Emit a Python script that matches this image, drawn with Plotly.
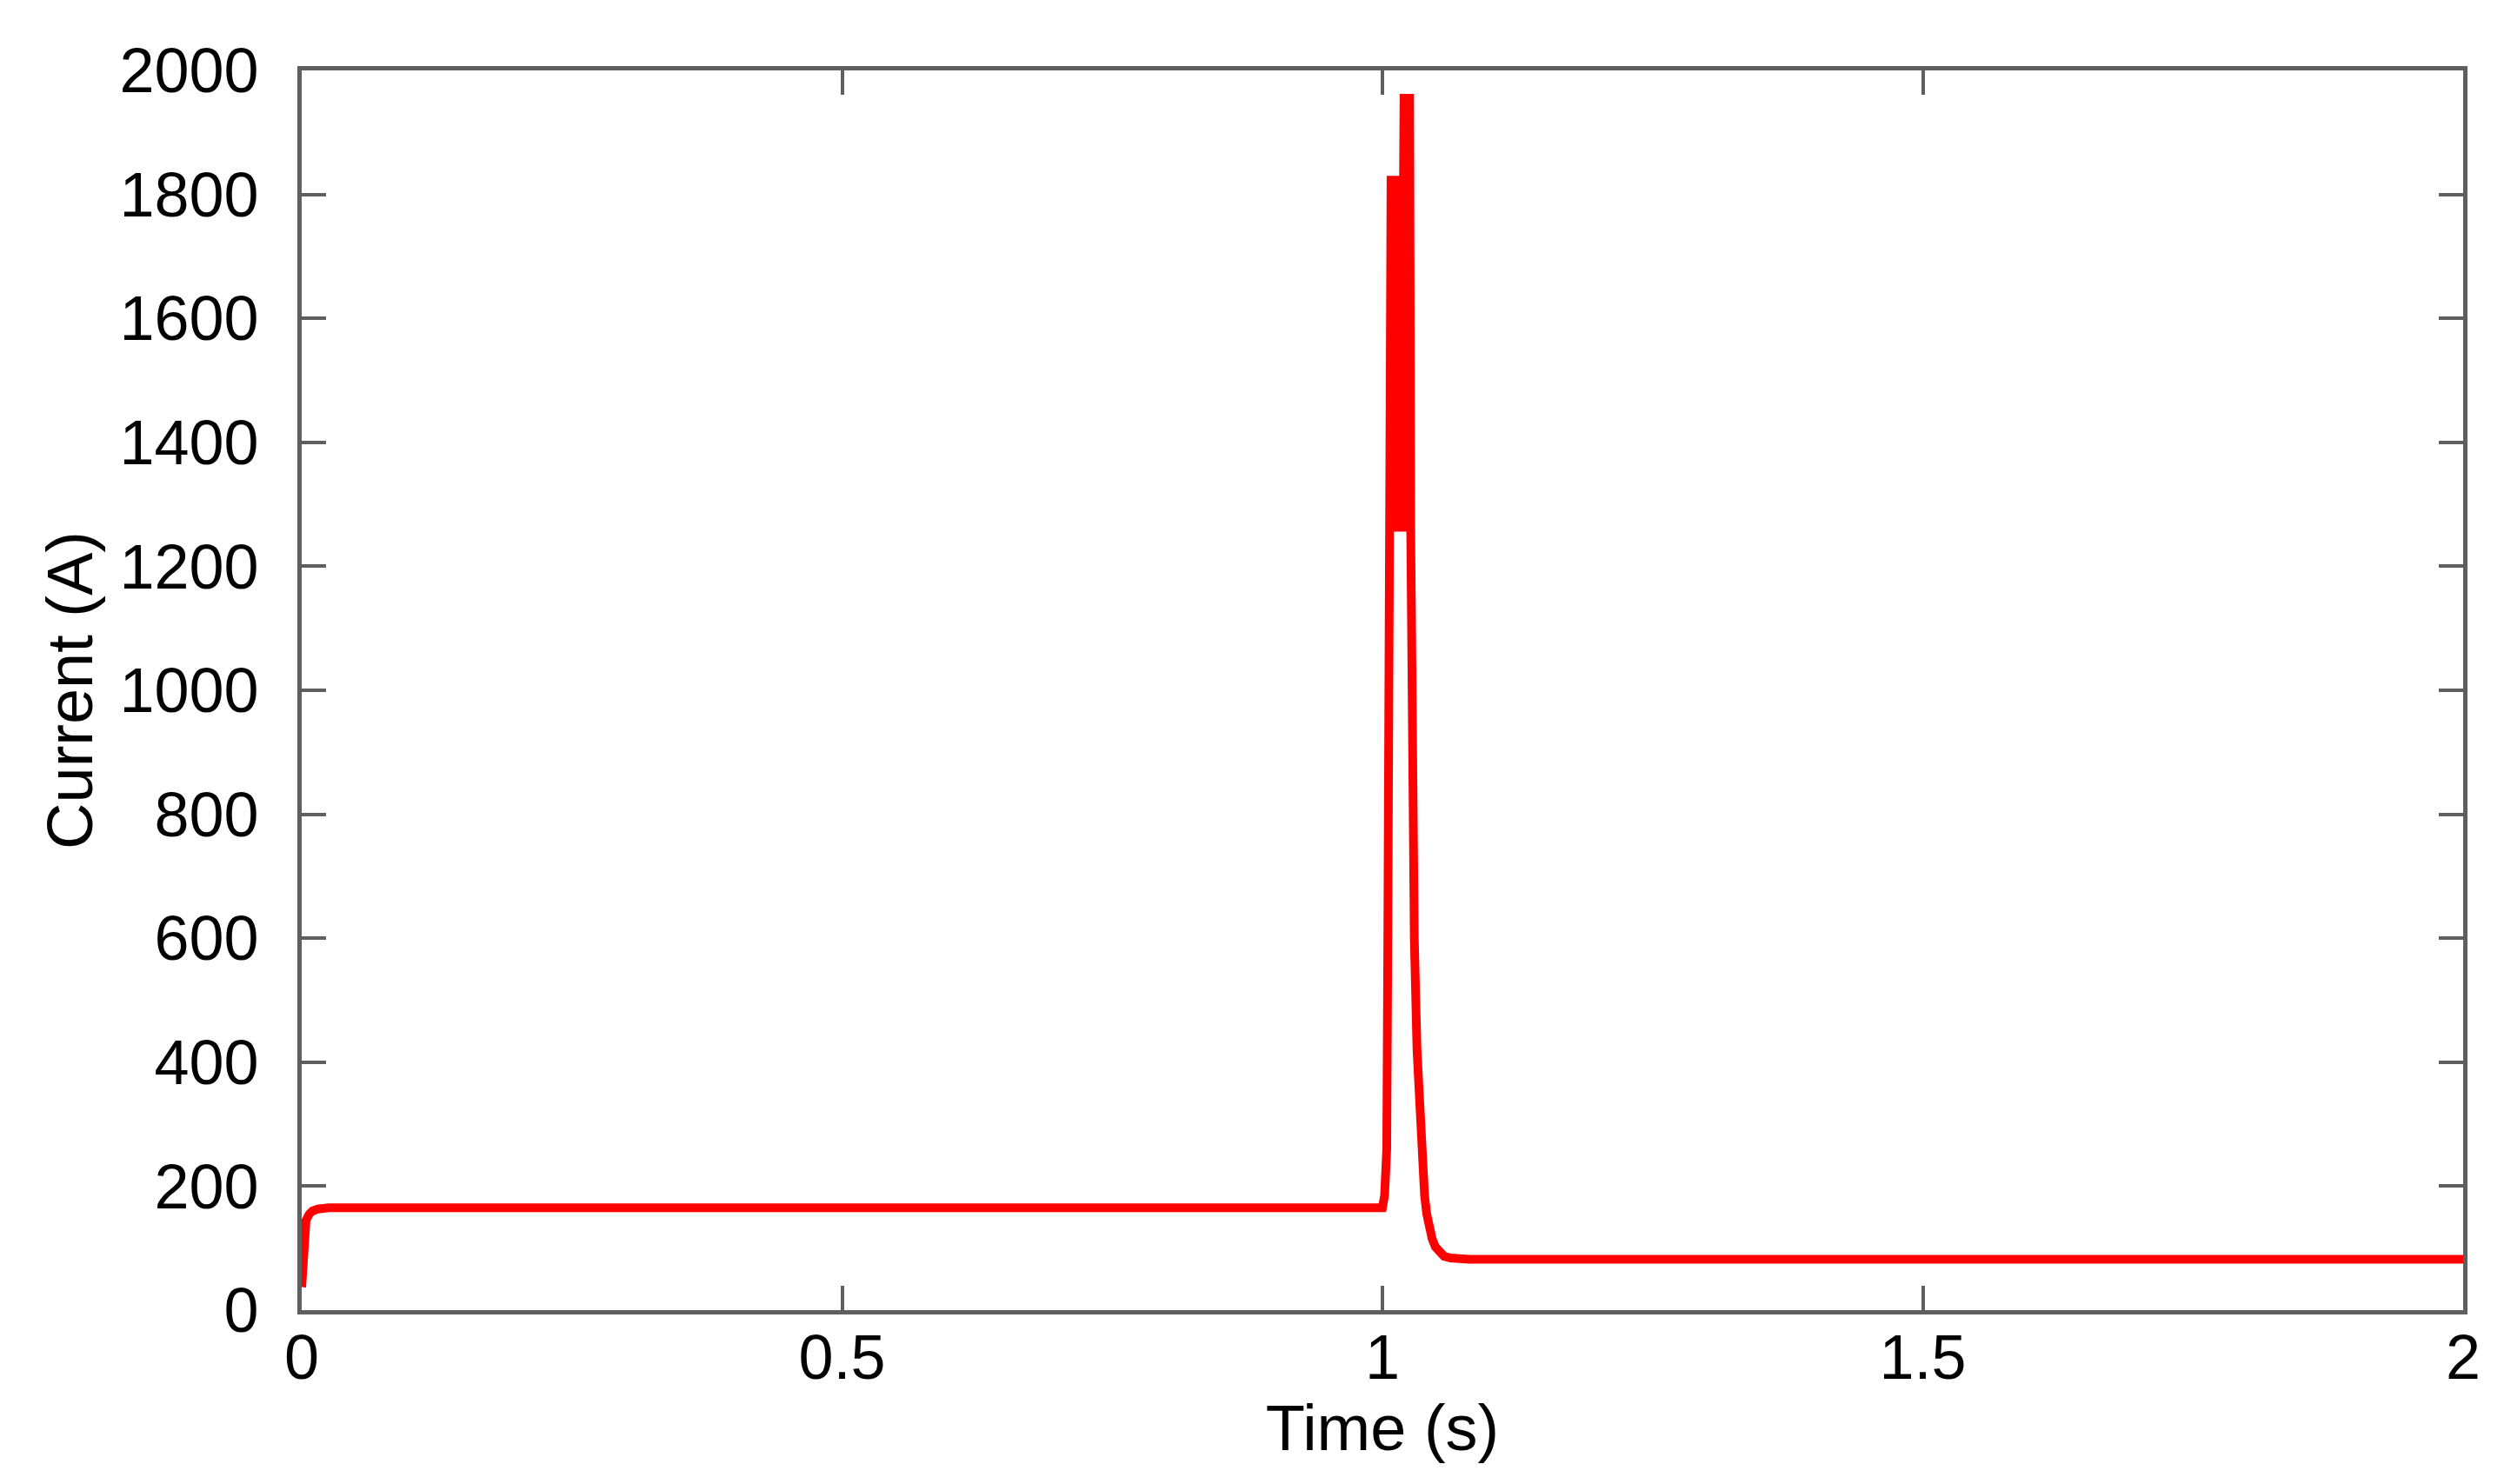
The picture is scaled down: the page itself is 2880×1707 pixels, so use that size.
import plotly.graph_objects as go

# Values (time in s, current in A)
startup_t = [0.0, 0.001, 0.002, 0.004, 0.007, 0.010, 0.015, 0.025]
startup_i = [37, 90, 125, 145, 155, 160, 163, 165]

steady_t = [0.5, 1.0]
steady_i = [165, 165]

rise_t = [1.002, 1.004, 1.005, 1.0058, 1.0068]
rise_i = [185, 260, 600, 1256, 1830]

# high-frequency oscillation during the fault
osc_t = [1.0075, 1.0080, 1.0085, 1.0090, 1.0095, 1.0100, 1.0105, 1.0110,
         1.0115, 1.0120, 1.0125, 1.0130, 1.0135, 1.0140, 1.0145, 1.0150,
         1.0155, 1.0160, 1.0165, 1.0170, 1.0175, 1.0180, 1.0185, 1.0190,
         1.0195, 1.0200, 1.0205, 1.0210, 1.0215, 1.0220, 1.0225, 1.0230,
         1.0235, 1.0240, 1.0245, 1.0252]
osc_i = [1256, 1830, 1256, 1830, 1256, 1830, 1256, 1830,
         1256, 1830, 1256, 1830, 1256, 1830, 1256, 1830,
         1256, 1830, 1256, 1830, 1256, 1962, 1256, 1962,
         1256, 1962, 1256, 1962, 1256, 1962, 1256, 1962,
         1256, 1962, 1300, 1962]

decay_t = [1.0262, 1.0268, 1.0278, 1.0295, 1.032, 1.035, 1.037, 1.039,
           1.041, 1.043, 1.046, 1.049, 1.053, 1.057, 1.063, 1.07, 1.08,
           1.5, 2.0]
decay_i = [1256, 1100, 850, 600, 420, 290, 230, 185,
           155, 135, 115, 102, 92, 87, 84, 83, 82,
           82, 82]

x_ticks = [0, 0.5, 1, 1.5, 2]
x_labels = ["0", "0.5", "1", "1.5", "2"]
y_ticks = [0, 200, 400, 600, 800, 1000, 1200, 1400, 1600, 1800, 2000]

time = startup_t + steady_t + rise_t + osc_t + decay_t
current = startup_i + steady_i + rise_i + osc_i + decay_i

FONT = "Liberation Sans, Arial, sans-serif"
AXIS_COLOR = "#5f5f5f"

fig = go.Figure()
fig.add_trace(go.Scatter(
    x=time, y=current,
    mode="lines",
    line=dict(color="#ff0000", width=10),
    showlegend=False,
))

axis_common = dict(
    showline=True, linewidth=5, linecolor=AXIS_COLOR, mirror="ticks",
    ticks="inside", ticklen=28, tickwidth=4, tickcolor=AXIS_COLOR,
    showgrid=False, zeroline=False,
    tickfont=dict(family=FONT, size=72, color="black"),
)

fig.update_layout(
    width=2880, height=1707,
    paper_bgcolor="white", plot_bgcolor="white",
    margin=dict(l=339, r=55, t=73, b=208),
    font=dict(family=FONT, color="black"),
    xaxis=dict(
        range=[0, 2], tickvals=x_ticks, ticktext=x_labels,
        ticklabelstandoff=-12,
        title=dict(text="Time (s)", font=dict(family=FONT, size=74), standoff=0),
        **axis_common,
    ),
    yaxis=dict(
        range=[0, 2000], tickvals=y_ticks,
        ticklabelstandoff=30,
        title=dict(text="Current (A)", font=dict(family=FONT, size=74), standoff=8),
        **axis_common,
    ),
)

fig.write_html("out.html")
